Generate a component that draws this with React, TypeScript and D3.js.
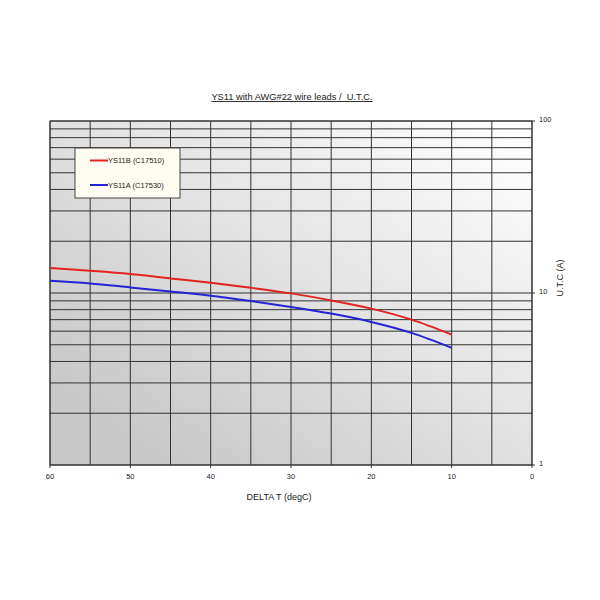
import React from "react";
import * as d3 from "d3";

const deltaT = [60, 55, 50, 45, 40, 35, 30, 25, 20, 15, 10];
const ys11b = [13.96, 13.46, 12.89, 12.15, 11.47, 10.73, 9.95, 9.06, 8.11, 7.0, 5.73];
const ys11a = [11.78, 11.37, 10.78, 10.21, 9.65, 8.99, 8.3, 7.59, 6.79, 5.86, 4.8];
const xTicks = [60, 50, 40, 30, 20, 10, 0];
const xGrid = [60, 55, 50, 45, 40, 35, 30, 25, 20, 15, 10, 5, 0];
const yTicks = [1, 10, 100];
const seriesNames = ["YS11B (C17510)", "YS11A (C17530)"];
const seriesColors = ["#e32222", "#2424d4"];
const titleText = "YS11 with AWG#22 wire leads /  U.T.C.";
const xTitle = "DELTA T (degC)";
const yTitle = "U.T.C (A)";

const L = 50, R = 532, T = 121, B = 465;
const FONT = "'Liberation Sans', Arial, sans-serif";

export default function App() {
  const x = d3.scaleLinear().domain([60, 0]).range([L, R]);
  const y = d3.scaleLog().domain([1, 100]).range([B, T]);
  const yGrid: number[] = [];
  for (const dec of [1, 10]) for (let i = 1; i <= 9; i++) yGrid.push(i * dec);
  yGrid.push(100);
  const line = d3
    .line<[number, number]>()
    .x((d) => x(d[0]))
    .y((d) => y(d[1]))
    .curve(d3.curveMonotoneX);
  const series = [ys11b, ys11a];
  return (
    <svg width={600} height={600} style={{ position: "absolute", left: 0, top: 0, background: "#fff" }}>
      <defs>
        <linearGradient id="bg" x1="0.95" y1="0" x2="0.1" y2="0.85">
          <stop offset="0" stopColor="#ffffff" />
          <stop offset="1" stopColor="#c8c8c8" />
        </linearGradient>
      </defs>
      <rect x={L} y={T} width={R - L} height={B - T} fill="url(#bg)" />
      {yGrid.map((v) => (
        <line key={"h" + v} x1={L} x2={R} y1={y(v)} y2={y(v)} stroke="#333" strokeWidth={1} />
      ))}
      {xGrid.map((v) => (
        <line key={"v" + v} x1={x(v)} x2={x(v)} y1={T} y2={B} stroke="#333" strokeWidth={1} />
      ))}
      <rect x={L} y={T} width={R - L} height={B - T} fill="none" stroke="#333" strokeWidth={1} />
      {xTicks.map((v) => (
        <g key={"xt" + v}>
          <line x1={x(v)} x2={x(v)} y1={B} y2={B + 3} stroke="#333" />
          <text x={x(v)} y={B + 14} fontSize={7.5} fontFamily={FONT} textAnchor="middle" fill="#222">
            {v}
          </text>
        </g>
      ))}
      {yTicks.map((v) => (
        <g key={"yt" + v}>
          <line x1={R} x2={R + 3} y1={y(v)} y2={y(v)} stroke="#333" />
          <text x={R + 7} y={y(v) + 1} fontSize={7.5} fontFamily={FONT} fill="#222">
            {v}
          </text>
        </g>
      ))}
      {series.map((s, i) => (
        <path
          key={"s" + i}
          d={line(deltaT.map((t, j) => [t, s[j]] as [number, number])) || ""}
          fill="none"
          stroke={seriesColors[i]}
          strokeWidth={2}
        />
      ))}
      <rect x={75} y={148} width={105} height={50} fill="#fffdf2" stroke="#444" strokeWidth={1} />
      {seriesNames.map((n, i) => (
        <g key={"lg" + i}>
          <line x1={90} x2={108} y1={160.5 + i * 24.5} y2={160.5 + i * 24.5} stroke={seriesColors[i]} strokeWidth={2} />
          <text x={108} y={163 + i * 24.5} fontSize={7.5} fontFamily={FONT} fill="#222">
            {n}
          </text>
        </g>
      ))}
      <text
        x={292}
        y={100}
        fontSize={9.3}
        fontFamily={FONT}
        textAnchor="middle"
        fill="#222"
        textDecoration="underline"
        style={{ whiteSpace: "pre" }}
      >
        {titleText}
      </text>
      <text x={279} y={500} fontSize={9} fontFamily={FONT} textAnchor="middle" fill="#222">
        {xTitle}
      </text>
      <text
        transform={`translate(563,278) rotate(-90)`}
        fontSize={9}
        fontFamily={FONT}
        textAnchor="middle"
        fill="#222"
      >
        {yTitle}
      </text>
    </svg>
  );
}
